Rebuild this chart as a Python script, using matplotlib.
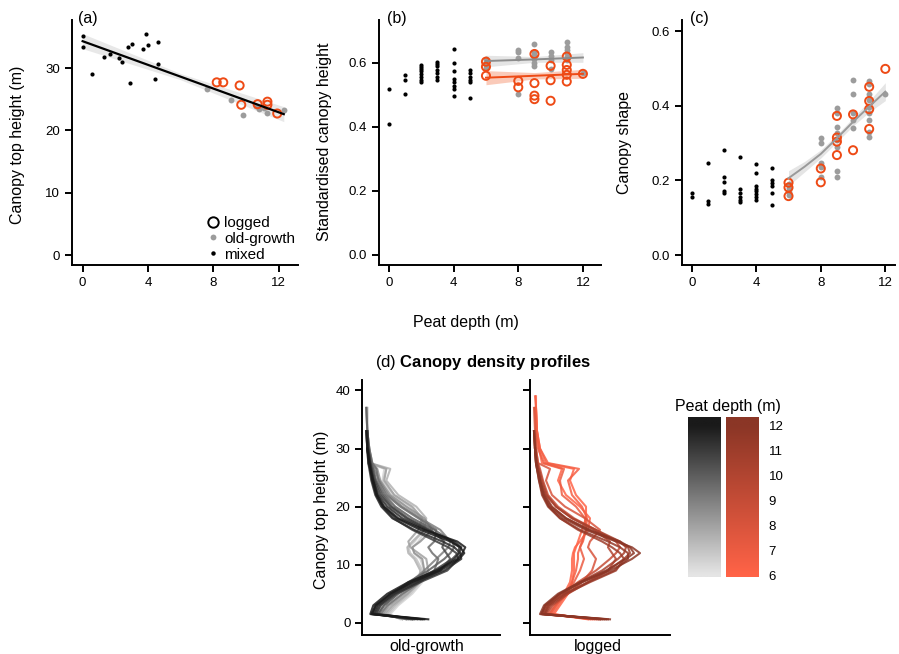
import numpy as np
import matplotlib
matplotlib.use("Agg")
import matplotlib.pyplot as plt
from matplotlib.colors import LinearSegmentedColormap
from matplotlib.lines import Line2D

plt.rcParams['font.family'] = ['Liberation Sans', 'DejaVu Sans']
plt.rcParams['mathtext.fontset'] = 'custom'
plt.rcParams['mathtext.rm'] = 'Liberation Sans'
plt.rcParams['mathtext.bf'] = 'Liberation Sans:bold'

# ---- panel (a): canopy top height vs peat depth
a_mixed_x = [0, 0, 0.6, 1.3, 1.7, 2.2, 2.4, 2.8, 3.0, 2.9, 3.7, 3.9, 4.0, 4.4, 4.6, 4.6]
a_mixed_y = [35.1, 33.3, 29.1, 31.8, 32.2, 31.6, 31.0, 33.3, 33.9, 27.6, 33.0, 35.4, 33.7, 28.3, 34.1, 30.7]
a_old_x = [7.6, 9.1, 9.8, 10.8, 11.3, 12.3, 10.6, 11.1]
a_old_y = [26.6, 24.9, 22.5, 23.4, 22.8, 23.3, 23.9, 23.6]
a_log_x = [8.2, 8.6, 9.6, 9.7, 10.7, 11.3, 11.3, 11.9]
a_log_y = [27.7, 27.7, 27.2, 24.1, 24.2, 24.6, 24.1, 22.7]
a_fit_x = [0, 6, 12.3]
a_fit_y = [34.3, 28.6, 22.6]
a_fit_se = [1.2, 0.5, 1.2]

# ---- panel (b): standardised canopy height
b_mixed_x = [0, 0, 1, 1, 1] + [2] * 8 + [3] * 7 + [4] * 8 + [5] * 6
b_mixed_y = [0.519, 0.410, 0.561, 0.547, 0.501,
             0.593, 0.586, 0.580, 0.573, 0.564, 0.556, 0.547, 0.539,
             0.601, 0.595, 0.588, 0.577, 0.567, 0.556, 0.546,
             0.643, 0.600, 0.575, 0.548, 0.538, 0.527, 0.518, 0.496,
             0.577, 0.567, 0.556, 0.546, 0.540, 0.491]
b_old_x = [6] * 4 + [8] * 4 + [9] * 6 + [10] * 4 + [11] * 6 + [12]
b_old_y = [0.611, 0.603, 0.593, 0.582,
           0.640, 0.633, 0.614, 0.502,
           0.657, 0.633, 0.623, 0.612, 0.600, 0.588,
           0.632, 0.622, 0.608, 0.579,
           0.664, 0.650, 0.640, 0.629, 0.619, 0.608,
           0.569]
b_log_x = [6] * 3 + [8] * 2 + [9] * 4 + [10] * 3 + [11] * 5 + [12]
b_log_y = [0.603, 0.587, 0.559,
           0.543, 0.523,
           0.627, 0.536, 0.497, 0.486,
           0.590, 0.545, 0.481,
           0.619, 0.593, 0.577, 0.562, 0.541,
           0.565]
b_fit_x = [6, 9, 12]
b_fit_old = [0.605, 0.610, 0.616]
b_se_old = [0.018, 0.009, 0.015]
b_fit_log = [0.553, 0.559, 0.565]
b_se_log = [0.022, 0.010, 0.014]

# ---- panel (c): canopy shape
c_mixed_x = [0, 0, 1, 1, 1] + [2] * 5 + [3] * 6 + [4] * 8 + [5] * 6
c_mixed_y = [0.165, 0.156, 0.247, 0.145, 0.137,
             0.281, 0.210, 0.197, 0.172, 0.165,
             0.262, 0.176, 0.167, 0.156, 0.147, 0.141,
             0.243, 0.221, 0.185, 0.178, 0.171, 0.163, 0.155, 0.147,
             0.232, 0.201, 0.192, 0.185, 0.167, 0.134]
c_old_x = [6] * 4 + [8] * 5 + [9] * 8 + [10] * 5 + [11] * 9 + [12]
c_old_y = [0.190, 0.180, 0.170, 0.160,
           0.313, 0.299, 0.246, 0.237, 0.210,
           0.393, 0.380, 0.344, 0.326, 0.308, 0.290, 0.226, 0.208,
           0.469, 0.433, 0.380, 0.362, 0.340,
           0.467, 0.458, 0.433, 0.416, 0.398, 0.380, 0.362, 0.331, 0.317,
           0.433]
c_log_x = [6] * 3 + [8] * 2 + [9] * 4 + [10] * 2 + [11] * 4 + [12]
c_log_y = [0.194, 0.181, 0.158,
           0.232, 0.195,
           0.373, 0.315, 0.304, 0.268,
           0.377, 0.281,
           0.451, 0.413, 0.391, 0.338,
           0.499]
c_fit_x = [6, 7, 8, 9, 10, 11, 12]
c_fit_y = [0.206, 0.237, 0.271, 0.313, 0.357, 0.398, 0.438]
c_fit_se = [0.020, 0.014, 0.011, 0.010, 0.011, 0.015, 0.024]

# ---- panel (d): canopy density profiles (relative density at each height)
prof_h = [0.6, 1.5, 3, 5, 7, 9, 11, 12, 13, 14, 16, 18, 20, 22, 24.5, 26.5, 27.5, 30, 33, 37, 39]
nan = np.nan
og_depth = [6.5, 7, 7.5, 8, 8.5, 9, 9.5, 10, 10.5, 11, 11, 11.5, 11.5, 12, 12]
og_prof = [
    [0.38, 0.28, 0.36, 0.50, 0.60, 0.62, 0.58, 0.52, 0.50, 0.56, 0.64, 0.58, 0.44, 0.30, 0.20, 0.22, 0.07, 0.06, 0.05, 0.05, nan],
    [0.40, 0.26, 0.34, 0.48, 0.58, 0.60, 0.54, 0.48, 0.46, 0.52, 0.62, 0.60, 0.48, 0.32, 0.21, 0.24, 0.07, 0.06, 0.05, 0.04, nan],
    [0.40, 0.24, 0.32, 0.46, 0.56, 0.58, 0.52, 0.46, 0.45, 0.50, 0.62, 0.64, 0.54, 0.36, 0.24, 0.28, 0.08, 0.06, 0.05, 0.05, nan],
    [0.44, 0.22, 0.30, 0.45, 0.58, 0.66, 0.64, 0.56, 0.48, 0.46, 0.56, 0.60, 0.50, 0.32, 0.22, 0.24, 0.08, 0.06, 0.05, nan, nan],
    [0.44, 0.20, 0.27, 0.42, 0.56, 0.62, 0.60, 0.52, 0.50, 0.58, 0.70, 0.62, 0.44, 0.28, 0.18, 0.15, 0.10, 0.07, 0.05, 0.04, nan],
    [0.46, 0.15, 0.20, 0.33, 0.48, 0.62, 0.74, 0.80, 0.86, 0.88, 0.78, 0.58, 0.40, 0.26, 0.17, 0.12, 0.09, 0.07, 0.05, nan, nan],
    [0.50, 0.18, 0.25, 0.40, 0.58, 0.72, 0.76, 0.70, 0.66, 0.72, 0.74, 0.56, 0.38, 0.24, 0.16, 0.14, 0.10, 0.07, 0.05, nan, nan],
    [0.48, 0.13, 0.18, 0.30, 0.46, 0.66, 0.82, 0.88, 0.92, 0.90, 0.72, 0.50, 0.33, 0.22, 0.14, 0.11, 0.09, 0.06, 0.05, 0.04, nan],
    [0.50, 0.16, 0.22, 0.36, 0.56, 0.78, 0.88, 0.84, 0.80, 0.82, 0.68, 0.46, 0.30, 0.20, 0.13, 0.10, 0.08, 0.06, 0.05, nan, nan],
    [0.52, 0.11, 0.15, 0.28, 0.48, 0.72, 0.90, 0.96, 0.97, 0.90, 0.66, 0.44, 0.28, 0.18, 0.12, 0.09, 0.07, 0.05, 0.04, nan, nan],
    [0.55, 0.14, 0.18, 0.34, 0.58, 0.85, 0.96, 0.94, 0.86, 0.74, 0.50, 0.31, 0.20, 0.14, 0.10, 0.08, 0.06, 0.05, 0.04, nan, nan],
    [0.58, 0.09, 0.14, 0.30, 0.52, 0.76, 0.92, 0.97, 0.99, 0.92, 0.64, 0.40, 0.25, 0.16, 0.11, 0.09, 0.08, 0.06, 0.05, nan, nan],
    [0.60, 0.12, 0.16, 0.32, 0.55, 0.82, 0.99, 0.98, 0.92, 0.80, 0.52, 0.30, 0.19, 0.13, 0.09, 0.07, 0.06, 0.05, nan, nan, nan],
    [0.62, 0.08, 0.11, 0.25, 0.46, 0.74, 0.95, 1.00, 1.03, 0.95, 0.62, 0.36, 0.22, 0.15, 0.11, 0.08, 0.07, 0.05, 0.04, nan, nan],
    [0.66, 0.10, 0.13, 0.28, 0.50, 0.78, 0.97, 1.02, 0.98, 0.88, 0.58, 0.34, 0.21, 0.14, 0.10, 0.08, 0.07, 0.05, nan, nan, nan],
]
lg_depth = [6, 6, 6.5, 7, 8, 9, 10, 10.5, 11, 11, 11.5, 12, 12]
lg_prof = [
    [0.58, 0.20, 0.26, 0.34, 0.40, 0.42, 0.42, 0.43, 0.45, 0.50, 0.58, 0.60, 0.50, 0.36, 0.28, 0.32, 0.12, 0.09, 0.07, 0.06, nan],
    [0.60, 0.24, 0.30, 0.38, 0.42, 0.44, 0.44, 0.44, 0.46, 0.48, 0.52, 0.56, 0.56, 0.46, 0.40, 0.44, 0.16, 0.10, 0.07, 0.06, 0.06],
    [0.62, 0.22, 0.28, 0.36, 0.42, 0.46, 0.48, 0.48, 0.50, 0.53, 0.56, 0.57, 0.52, 0.42, 0.38, 0.49, 0.18, 0.10, 0.07, 0.06, 0.05],
    [0.64, 0.20, 0.26, 0.36, 0.44, 0.50, 0.54, 0.52, 0.50, 0.52, 0.56, 0.55, 0.46, 0.32, 0.30, 0.34, 0.14, 0.08, 0.06, 0.05, nan],
    [0.66, 0.18, 0.24, 0.38, 0.52, 0.62, 0.66, 0.62, 0.58, 0.60, 0.70, 0.55, 0.35, 0.22, 0.16, 0.20, 0.08, 0.06, 0.05, 0.04, nan],
    [0.68, 0.14, 0.19, 0.32, 0.48, 0.66, 0.80, 0.86, 0.90, 0.86, 0.66, 0.44, 0.28, 0.18, 0.13, 0.10, 0.08, 0.06, 0.05, nan, nan],
    [0.70, 0.16, 0.22, 0.38, 0.58, 0.78, 0.86, 0.82, 0.78, 0.80, 0.64, 0.42, 0.26, 0.17, 0.12, 0.09, 0.07, 0.05, 0.04, nan, nan],
    [0.70, 0.12, 0.17, 0.30, 0.50, 0.72, 0.88, 0.94, 0.96, 0.90, 0.66, 0.42, 0.26, 0.16, 0.11, 0.08, 0.07, 0.05, 0.04, nan, nan],
    [0.72, 0.15, 0.20, 0.36, 0.60, 0.86, 0.94, 0.90, 0.82, 0.72, 0.48, 0.30, 0.19, 0.13, 0.10, 0.08, 0.06, 0.05, nan, nan, nan],
    [0.74, 0.11, 0.16, 0.30, 0.52, 0.78, 0.94, 1.00, 0.98, 0.88, 0.58, 0.36, 0.22, 0.15, 0.10, 0.08, 0.07, 0.05, 0.04, nan, nan],
    [0.76, 0.14, 0.18, 0.34, 0.58, 0.84, 0.98, 0.98, 0.90, 0.78, 0.50, 0.30, 0.18, 0.12, 0.09, 0.07, 0.06, 0.05, nan, nan, nan],
    [0.78, 0.10, 0.14, 0.28, 0.50, 0.76, 0.96, 1.04, 1.00, 0.90, 0.60, 0.36, 0.21, 0.14, 0.10, 0.07, 0.06, 0.05, 0.04, nan, nan],
    [0.80, 0.12, 0.15, 0.30, 0.52, 0.80, 1.02, 1.10, 1.02, 0.86, 0.56, 0.33, 0.19, 0.13, 0.09, 0.07, 0.06, 0.05, nan, nan, nan],
]
depth_ticks = [6, 7, 8, 9, 10, 11, 12]

ORANGE = '#ee4a15'
GREY = '#9c9c9c'
grey_cmap = LinearSegmentedColormap.from_list('og', ['#e5e5e5', '#1a1a1a'])
red_cmap = LinearSegmentedColormap.from_list('lg', ['#ff6347', '#8b3626'])

W, H = 899, 654
fig = plt.figure(figsize=(W / 100, H / 100), dpi=100)


def axes_px(x0, x1, y0, y1):
    return fig.add_axes([x0 / W, 1 - y1 / H, (x1 - x0) / W, (y1 - y0) / H])


def style(ax):
    ax.spines[['top', 'right']].set_visible(False)
    for s in ['left', 'bottom']:
        ax.spines[s].set_linewidth(1.4)
    ax.tick_params(length=5, width=1.4, labelsize=9.5, pad=3.5, colors='black')


def scatter_groups(ax, mx, my, ox, oy, lx, ly):
    ax.scatter(mx, my, s=9, c='black', linewidths=0, zorder=3)
    ax.scatter(ox, oy, s=18, c=GREY, linewidths=0, zorder=3)
    ax.scatter(lx, ly, s=34, facecolors='none', edgecolors=ORANGE, linewidths=1.4, zorder=4)


# (a)
ax = axes_px(72, 298, 20, 265)
style(ax)
fx, fy, fs = np.array(a_fit_x), np.array(a_fit_y), np.array(a_fit_se)
ax.fill_between(fx, fy - fs, fy + fs, color='#d9d9d9', alpha=0.6, lw=0, zorder=1)
scatter_groups(ax, a_mixed_x, a_mixed_y, a_old_x, a_old_y, a_log_x, a_log_y)
ax.plot(fx, fy, color='black', lw=1.6, zorder=5)
ax.set_xlim(-0.65, 13.17)
ax.set_ylim(-1.6, 37.7)
ax.set_xticks([0, 4, 8, 12])
ax.set_yticks([0, 10, 20, 30])
handles = [
    Line2D([], [], ls='none', marker='o', ms=7.5, mfc='none', mec='black', mew=1.4),
    Line2D([], [], ls='none', marker='o', ms=4.2, mfc=GREY, mec='none'),
    Line2D([], [], ls='none', marker='o', ms=3.2, mfc='black', mec='none'),
]
ax.legend(handles, ['logged', 'old-growth', 'mixed'], loc='upper left',
          bbox_to_anchor=(206 / W, 1 - 216 / H), bbox_transform=fig.transFigure,
          frameon=False, fontsize=11, handlelength=0.9, handletextpad=0.3,
          labelspacing=0.12, borderpad=0, borderaxespad=0)

# (b)
ax = axes_px(379, 600.7, 20, 265.5)
style(ax)
fx = np.array(b_fit_x)
for fit, se, band in [(b_fit_old, b_se_old, '#d0d0d0'),
                      (b_fit_log, b_se_log, '#f7a080')]:
    fy, fs = np.array(fit), np.array(se)
    ax.fill_between(fx, fy - fs, fy + fs, color=band, alpha=0.55, lw=0, zorder=1)
scatter_groups(ax, b_mixed_x, b_mixed_y, b_old_x, b_old_y, b_log_x, b_log_y)
ax.plot(fx, b_fit_old, color='#8c8c8c', lw=1.4, zorder=5)
ax.plot(fx, b_fit_log, color=ORANGE, lw=1.4, zorder=5)
ax.set_xlim(-0.62, 13.1)
ax.set_ylim(-0.033, 0.733)
ax.set_xticks([0, 4, 8, 12])
ax.set_yticks([0, 0.2, 0.4, 0.6])
ax.set_yticklabels(['0.0', '0.2', '0.4', '0.6'])

# (c)
ax = axes_px(681.7, 895, 20, 265.5)
style(ax)
fx, fy, fs = np.array(c_fit_x), np.array(c_fit_y), np.array(c_fit_se)
ax.fill_between(fx, fy - fs, fy + fs, color='#d0d0d0', alpha=0.55, lw=0, zorder=1)
scatter_groups(ax, c_mixed_x, c_mixed_y, c_old_x, c_old_y, c_log_x, c_log_y)
ax.plot(fx, fy, color='#9a9a9a', lw=1.4, zorder=5)
ax.set_xlim(-0.62, 12.6)
ax.set_ylim(-0.028, 0.630)
ax.set_xticks([0, 4, 8, 12])
ax.set_yticks([0, 0.2, 0.4, 0.6])
ax.set_yticklabels(['0.0', '0.2', '0.4', '0.6'])

fig.text(87.5 / W, 1 - 19 / H, '(a)', fontsize=11.5, ha='center', va='center')
fig.text(397 / W, 1 - 19 / H, '(b)', fontsize=11.5, ha='center', va='center')
fig.text(699 / W, 1 - 19 / H, '(c)', fontsize=11.5, ha='center', va='center')
fig.text(18 / W, 1 - 145 / H, 'Canopy top height (m)', fontsize=11.5, rotation=90, ha='center', va='center')
fig.text(325 / W, 1 - 142 / H, 'Standardised canopy height', fontsize=11.5, rotation=90, ha='center', va='center')
fig.text(625 / W, 1 - 142 / H, 'Canopy shape', fontsize=11.5, rotation=90, ha='center', va='center')
fig.text(466 / W, 1 - 322 / H, 'Peat depth (m)', fontsize=11.5, ha='center', va='center')

# (d) profiles
for (x0, x1, xmax, depths, profs, cmap, lab, lab_x) in [
        (362.3, 500, 1.377, og_depth, og_prof, grey_cmap, 'old-growth', 427),
        (530, 670, 1.40, lg_depth, lg_prof, red_cmap, 'logged', 598)]:
    ax = axes_px(x0, x1, 380, 635)
    style(ax)
    for dep, prof in zip(depths, profs):
        ax.plot(prof, prof_h, color=cmap((dep - 6) / 6), lw=1.5, alpha=0.85)
    ax.set_xlim(0, xmax)
    ax.set_ylim(-2.1, 41.8)
    ax.set_xticks([])
    ax.set_yticks([0, 10, 20, 30, 40])
    if lab == 'logged':
        ax.set_yticklabels([])
    fig.text(lab_x / W, 1 - 646 / H, lab, fontsize=11.5, ha='center', va='center')

fig.text(321.5 / W, 1 - 510 / H, 'Canopy top height (m)', fontsize=11.5, rotation=90, ha='center', va='center')
fig.text(483 / W, 1 - 362 / H, r'(d) $\mathbf{Canopy\ density\ profiles}$', fontsize=12,
         ha='center', va='center')

# colour legend for peat depth
cax = axes_px(688, 759, 417, 577)
grad = np.linspace(5.93, 12.33, 200)[:, None]
cax.imshow(grad, cmap=grey_cmap, vmin=6, vmax=12, origin='lower', aspect='auto',
           extent=[0, 33, 5.93, 12.33])
cax.imshow(grad, cmap=red_cmap, vmin=6, vmax=12, origin='lower', aspect='auto',
           extent=[38, 71, 5.93, 12.33])
cax.set_xlim(0, 71)
cax.set_ylim(5.93, 12.33)
for s in cax.spines.values():
    s.set_visible(False)
cax.set_xticks([])
cax.yaxis.tick_right()
cax.set_yticks(depth_ticks)
cax.tick_params(length=0, pad=7, labelsize=9.5)
fig.text(675 / W, 1 - 406 / H, 'Peat depth (m)', fontsize=11.5, ha='left', va='center')

fig.savefig('out.png', dpi=100)
